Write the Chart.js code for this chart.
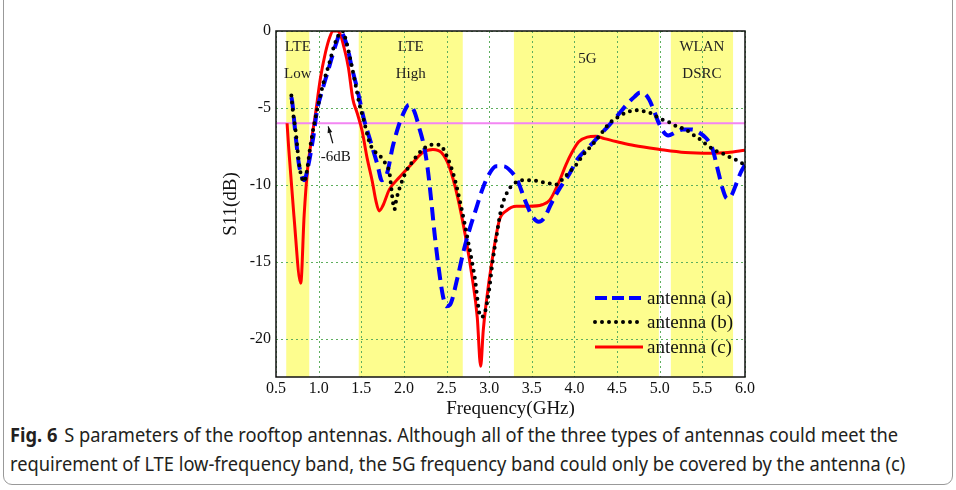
<!DOCTYPE html>
<html>
<head>
<meta charset="utf-8">
<script src="https://cdn.jsdelivr.net/npm/chart.js@4"></script>
<style>
  html, body { margin: 0; padding: 0; background: #fff; }
  body { width: 956px; height: 490px; position: relative; overflow: hidden; }
  #frame { position: absolute; left: 3px; top: -20px; width: 950px; height: 505px;
    border: 1px solid #999; border-radius: 9px; box-sizing: border-box; }
  #wrap { position: absolute; left: 0; top: 0; width: 956px; height: 420px; }
  #caption { position: absolute; left: 10px; top: 421px; font-family: "Noto Sans";
    font-size: 19px; line-height: 29px; color: #231f20; white-space: nowrap;
    transform: scaleX(0.962); transform-origin: 0 0; }
  #caption b { font-weight: 700; margin-right: 7px; }
</style>
</head>
<body>
<div id="frame"></div>
<div id="wrap"><canvas id="chart"></canvas></div>
<div id="caption"><b>Fig. 6</b>S parameters of the rooftop antennas. Although all of the three types of antennas could meet the<br>requirement of LTE low-frequency band, the 5G frequency band could only be covered by the antenna (c)</div>
<script>
// frequency (GHz) / S11 (dB)
const freqA = [0.68, 0.69, 0.73, 0.77, 0.83, 0.88, 0.94, 0.98, 1.04, 1.12, 1.20, 1.26, 1.33, 1.39, 1.45, 1.53, 1.61, 1.69, 1.74, 1.80, 1.87, 1.93, 1.99, 2.06, 2.12, 2.18, 2.24, 2.28, 2.32, 2.36, 2.41, 2.46, 2.50, 2.54, 2.63, 2.70, 2.77, 2.85, 2.92, 3.00, 3.08, 3.17, 3.25, 3.33, 3.42, 3.50, 3.58, 3.64, 3.73, 3.83, 3.94, 4.04, 4.14, 4.21, 4.31, 4.41, 4.52, 4.61, 4.70, 4.77, 4.83, 4.88, 4.94, 4.99, 5.05, 5.10, 5.18, 5.27, 5.38, 5.46, 5.55, 5.62, 5.68, 5.74, 5.79, 5.84, 5.90, 5.95, 6.00];
const s11A = [-4.3, -4.6, -6.8, -8.7, -9.7, -8.7, -6.8, -5.2, -3.9, -2.4, -0.9, -0.1, -0.9, -2.4, -3.7, -5.7, -7.2, -8.7, -9.7, -9.3, -7.5, -6.3, -5.4, -4.8, -5.2, -6.3, -7.6, -9.0, -11.0, -13.2, -15.5, -17.3, -17.9, -17.8, -16.0, -14.3, -12.9, -11.5, -10.3, -9.3, -8.8, -8.8, -9.1, -9.7, -11.0, -12.0, -12.4, -12.2, -11.2, -10.2, -9.3, -8.3, -7.7, -7.3, -6.7, -6.1, -5.4, -4.8, -4.3, -4.0, -4.1, -4.5, -5.3, -6.0, -6.6, -6.8, -6.6, -6.4, -6.4, -6.6, -7.0, -7.7, -9.0, -10.3, -10.9, -10.7, -9.9, -9.2, -8.7];

const freqB = [0.68, 0.70, 0.73, 0.77, 0.80, 0.83, 0.86, 0.90, 0.95, 1.00, 1.06, 1.12, 1.18, 1.23, 1.28, 1.32, 1.37, 1.43, 1.48, 1.52, 1.60, 1.67, 1.75, 1.79, 1.83, 1.85, 1.87, 1.89, 1.91, 1.95, 2.02, 2.10, 2.22, 2.32, 2.42, 2.50, 2.59, 2.67, 2.75, 2.83, 2.90, 2.95, 3.00, 3.04, 3.09, 3.14, 3.21, 3.30, 3.40, 3.50, 3.60, 3.70, 3.78, 3.85, 3.92, 4.02, 4.11, 4.21, 4.31, 4.41, 4.51, 4.61, 4.72, 4.80, 4.90, 5.00, 5.10, 5.20, 5.30, 5.38, 5.46, 5.55, 5.66, 5.75, 5.82, 5.90, 6.00];
const s11B = [-4.2, -5.3, -6.5, -8.6, -9.5, -9.8, -9.2, -7.6, -6.0, -4.7, -3.3, -2.2, -1.0, -0.3, 0.0, -0.6, -1.8, -3.4, -4.8, -5.6, -7.3, -7.9, -8.3, -8.7, -9.2, -10.1, -11.1, -11.6, -11.0, -10.2, -9.2, -8.5, -7.7, -7.4, -7.4, -8.1, -9.5, -11.4, -13.6, -16.0, -18.6, -18.3, -16.8, -15.0, -13.2, -11.6, -10.5, -9.9, -9.7, -9.7, -9.8, -9.9, -10.0, -9.7, -9.3, -8.7, -8.0, -7.4, -6.7, -6.0, -5.6, -5.3, -5.15, -5.2, -5.35, -5.7, -5.9, -6.2, -6.4, -6.7, -7.0, -7.4, -7.8, -8.0, -8.2, -8.4, -8.7];

const freqC = [0.63, 0.65, 0.71, 0.79, 0.83, 0.87, 0.91, 0.96, 1.02, 1.08, 1.13, 1.17, 1.22, 1.26, 1.29, 1.35, 1.40, 1.45, 1.51, 1.57, 1.63, 1.67, 1.71, 1.75, 1.83, 1.95, 2.10, 2.22, 2.34, 2.44, 2.53, 2.63, 2.73, 2.80, 2.86, 2.90, 2.93, 2.96, 3.04, 3.12, 3.20, 3.32, 3.47, 3.62, 3.71, 3.82, 3.90, 3.97, 4.05, 4.15, 4.25, 4.35, 4.50, 4.70, 5.00, 5.30, 5.60, 5.80, 6.00];
const s11C = [-6.0, -7.7, -12.0, -16.4, -12.0, -9.0, -7.3, -5.5, -3.1, -1.4, -0.4, 0.0, 0.0, -0.3, -0.9, -2.4, -4.4, -5.3, -6.5, -8.3, -9.8, -11.0, -11.7, -11.4, -10.3, -9.5, -8.6, -7.9, -7.7, -7.9, -8.8, -10.8, -13.6, -16.0, -18.6, -21.8, -19.5, -17.9, -14.7, -12.3, -11.7, -11.4, -11.4, -11.3, -11.0, -9.8, -8.7, -7.9, -7.2, -6.9, -6.85, -7.0, -7.2, -7.45, -7.7, -7.9, -7.95, -7.9, -7.75];

const seriesLabels = ["antenna (a)", "antenna (b)", "antenna (c)"];

// frequency bands shaded in yellow
const bandRanges = [[0.62, 0.89], [1.47, 2.69], [3.29, 4.99], [5.13, 5.86]];
const bandLabels = [["LTE", "Low"], ["LTE", "High"], ["5G"], ["WLAN", "DSRC"]];
const threshold = -6;
const thresholdLabel = "-6dB";

const serif = "'Liberation Serif', 'Times New Roman', serif";

function pts(xs, ys) {
  return xs.map((x, i) => ({ x: x, y: ys[i] }));
}

const decorPlugin = {
  id: "decor",
  beforeDatasetsDraw(chart) {
    const { ctx, chartArea: a, scales: { x, y } } = chart;
    ctx.save();
    ctx.fillStyle = "#fdfd8e";
    bandRanges.forEach(([f0, f1]) => {
      const x0 = x.getPixelForValue(f0);
      const x1 = x.getPixelForValue(f1);
      ctx.fillRect(x0, a.top, x1 - x0, a.bottom - a.top);
    });
    // grid drawn over the bands
    ctx.strokeStyle = "#5fae5f";
    ctx.lineWidth = 1;
    ctx.setLineDash([2, 3]);
    x.ticks.forEach((t) => {
      const px = Math.round(x.getPixelForValue(t.value)) + 0.5;
      ctx.beginPath();
      ctx.moveTo(px, a.top);
      ctx.lineTo(px, a.bottom);
      ctx.stroke();
    });
    y.ticks.forEach((t) => {
      const py = Math.round(y.getPixelForValue(t.value)) + 0.5;
      ctx.beginPath();
      ctx.moveTo(a.left, py);
      ctx.lineTo(a.right, py);
      ctx.stroke();
    });
    ctx.setLineDash([]);

    // band names
    ctx.fillStyle = "#222";
    ctx.font = "15px " + serif;
    ctx.textAlign = "center";
    ctx.textBaseline = "middle";
    bandRanges.forEach(([f0, f1], i) => {
      const cx = x.getPixelForValue((f0 + f1) / 2);
      const lines = bandLabels[i];
      if (lines.length === 1) {
        ctx.fillText(lines[0], cx + 1, a.top + 28);
      } else {
        ctx.fillText(lines[0], cx, a.top + 16);
        ctx.fillText(lines[1], cx, a.top + 43);
      }
    });

    // -6 dB line
    const ty = y.getPixelForValue(threshold);
    ctx.strokeStyle = "#f386f3";
    ctx.lineWidth = 2;
    ctx.beginPath();
    ctx.moveTo(a.left, ty);
    ctx.lineTo(a.right, ty);
    ctx.stroke();

    // arrow and label
    const ax0 = x.getPixelForValue(1.166), ay0 = y.getPixelForValue(-7.3);
    const ax1 = x.getPixelForValue(1.112), ay1 = y.getPixelForValue(-6.2);
    ctx.strokeStyle = "#111";
    ctx.fillStyle = "#111";
    ctx.lineWidth = 1.2;
    ctx.beginPath();
    ctx.moveTo(ax0, ay0);
    ctx.lineTo(ax1, ay1);
    ctx.stroke();
    const ang = Math.atan2(ay1 - ay0, ax1 - ax0);
    ctx.beginPath();
    ctx.moveTo(ax1, ay1);
    ctx.lineTo(ax1 - 7 * Math.cos(ang - 0.35), ay1 - 7 * Math.sin(ang - 0.35));
    ctx.lineTo(ax1 - 7 * Math.cos(ang + 0.35), ay1 - 7 * Math.sin(ang + 0.35));
    ctx.closePath();
    ctx.fill();
    ctx.font = "15px " + serif;
    ctx.fillText(thresholdLabel, x.getPixelForValue(1.2), y.getPixelForValue(-8.2));
    ctx.restore();
  },
  afterDatasetsDraw(chart) {
    const { ctx, chartArea: a } = chart;
    ctx.save();
    // legend, lower right inside the plot
    const rows = [a.bottom - 79, a.bottom - 55, a.bottom - 30];
    chart.data.datasets.forEach((ds, i) => {
      ctx.strokeStyle = ds.borderColor;
      ctx.lineWidth = ds.borderWidth;
      ctx.lineCap = ds.borderCapStyle || "butt";
      ctx.setLineDash(i === 0 ? [12, 5] : ds.borderDash || []);
      ctx.beginPath();
      ctx.moveTo(a.right - 150, rows[i]);
      ctx.lineTo(a.right - 102, rows[i]);
      ctx.stroke();
      ctx.setLineDash([]);
      ctx.fillStyle = "#111";
      ctx.font = "19px " + serif;
      ctx.textAlign = "left";
      ctx.textBaseline = "middle";
      ctx.fillText(ds.label, a.right - 98, rows[i] + 1);
    });
    ctx.restore();
  },
  afterDraw(chart) {
    const { ctx, chartArea: a } = chart;
    ctx.save();
    ctx.strokeStyle = "#111";
    ctx.lineWidth = 1.5;
    ctx.strokeRect(a.left, a.top, a.right - a.left, a.bottom - a.top);
    ctx.restore();
  },
};

new Chart(document.getElementById("chart").getContext("2d"), {
  type: "line",
  data: {
    datasets: [
      {
        label: seriesLabels[0],
        data: pts(freqA, s11A),
        borderColor: "#0000ff",
        borderWidth: 4,
        borderDash: [13, 7],
        order: 1,
      },
      {
        label: seriesLabels[1],
        data: pts(freqB, s11B),
        borderColor: "#000000",
        borderWidth: 4,
        borderDash: [0, 7],
        borderCapStyle: "round",
        order: 0,
      },
      {
        label: seriesLabels[2],
        data: pts(freqC, s11C),
        borderColor: "#ff0000",
        borderWidth: 3,
        order: 2,
      },
    ],
  },
  options: {
    responsive: true,
    maintainAspectRatio: false,
    animation: false,
    layout: { padding: { left: 220, top: 31, right: 211, bottom: 0 } },
    elements: {
      point: { radius: 0 },
      line: { cubicInterpolationMode: "monotone", fill: false },
    },
    plugins: { legend: { display: false }, tooltip: { enabled: false } },
    scales: {
      x: {
        type: "linear",
        min: 0.5,
        max: 6.0,
        ticks: {
          stepSize: 0.5,
          color: "#111",
          font: { family: serif, size: 16 },
          padding: 2,
          maxRotation: 0,
          callback: (v) => v.toFixed(1),
        },
        grid: { display: false, drawTicks: false },
        border: { display: false },
        title: {
          display: true,
          text: "Frequency(GHz)",
          color: "#111",
          font: { family: serif, size: 19 },
          padding: { top: 0, bottom: 0 },
        },
        afterFit: (s) => { s.height = 43; },
      },
      y: {
        min: -22.5,
        max: 0,
        ticks: {
          stepSize: 5,
          includeBounds: false,
          color: "#111",
          font: { family: serif, size: 16 },
          padding: 5,
        },
        grid: { display: false, drawTicks: false },
        border: { display: false },
        title: {
          display: true,
          text: "S11(dB)",
          color: "#111",
          font: { family: serif, size: 19 },
          padding: { top: 0, bottom: 0 },
        },
        afterFit: (s) => { s.width = 56; },
      },
    },
  },
  plugins: [decorPlugin],
});
</script>
</body>
</html>
